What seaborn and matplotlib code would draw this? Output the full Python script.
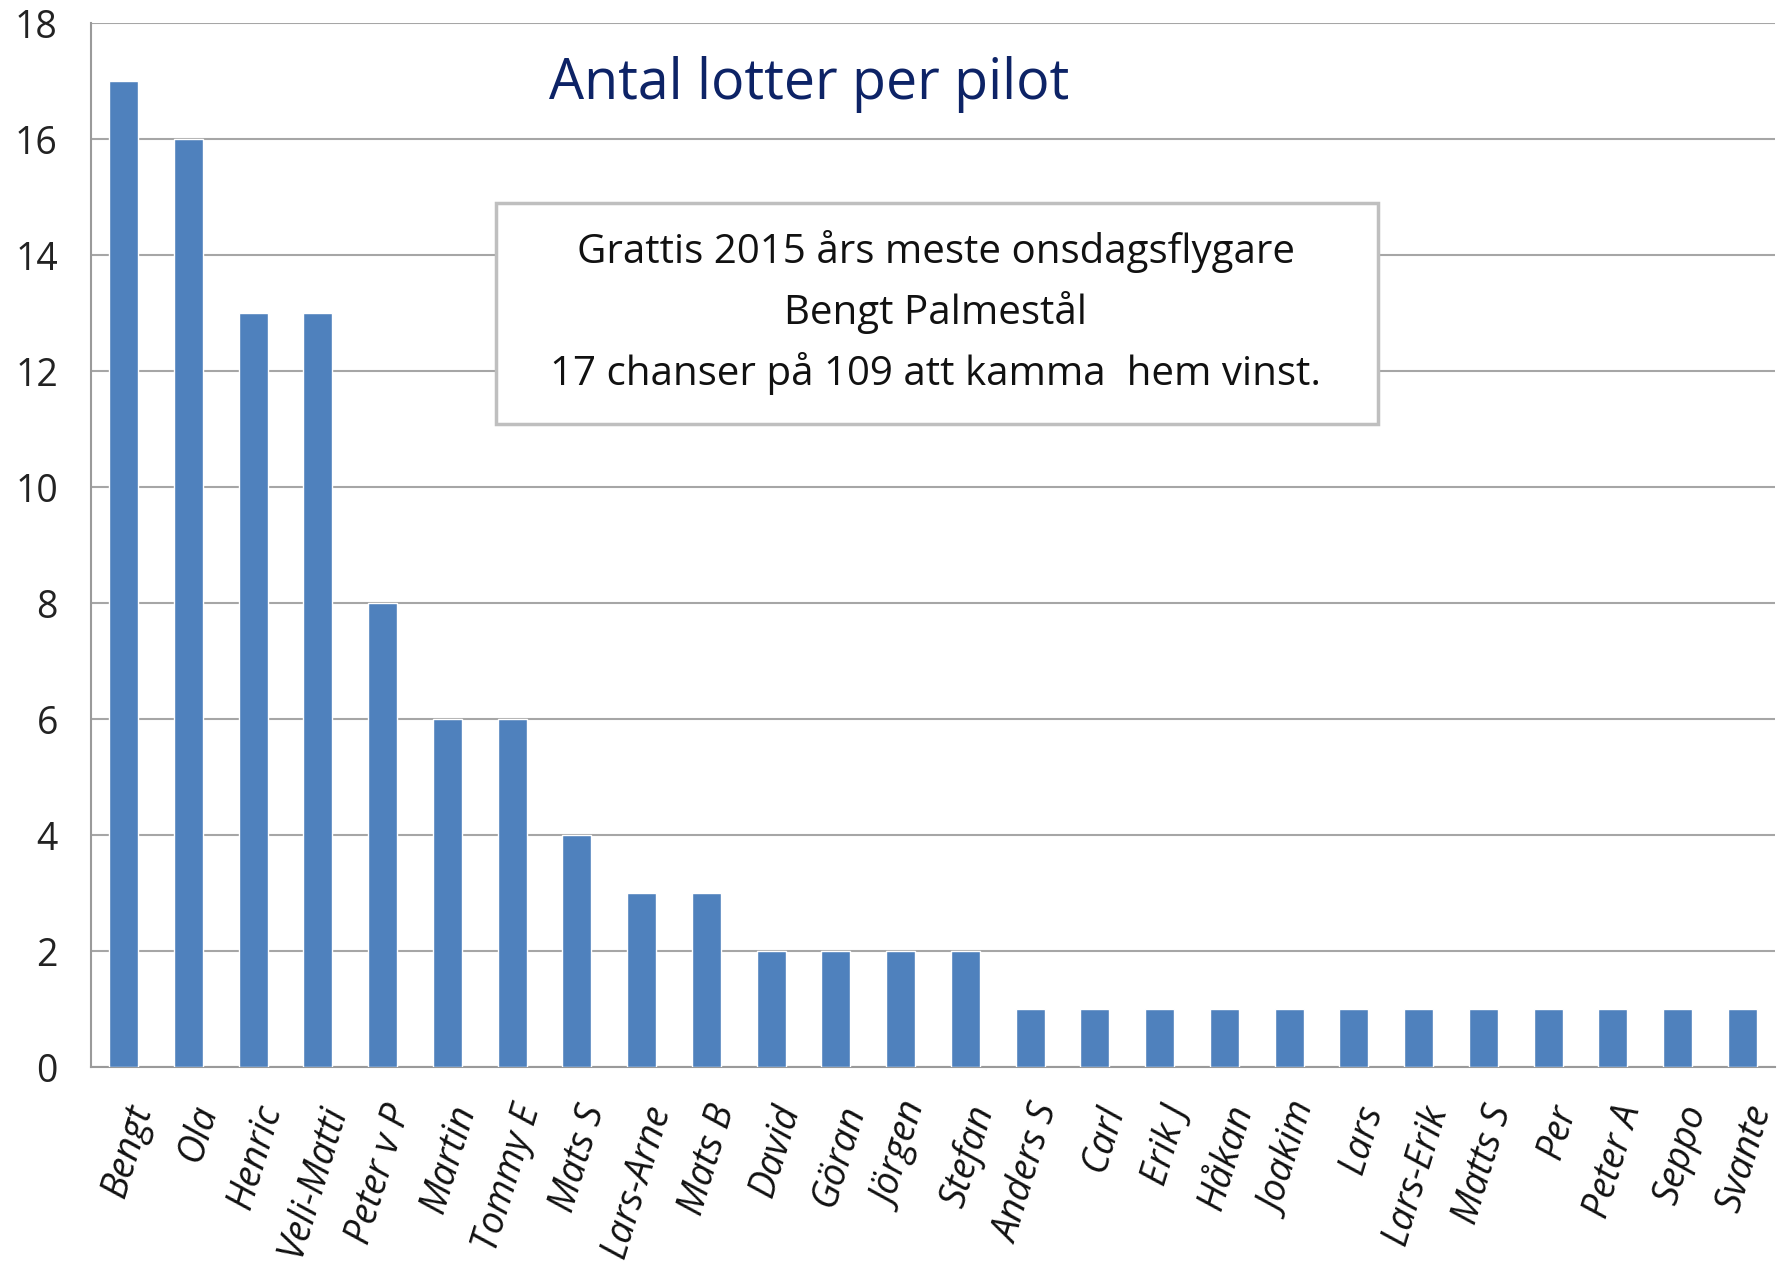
import pandas as pd
import matplotlib.pyplot as plt
import seaborn as sns
from matplotlib.patches import Rectangle

# Data
pilots = ["Bengt", "Ola", "Henric", "Veli-Matti", "Peter v P", "Martin", "Tommy E",
          "Mats S", "Lars-Arne", "Mats B", "David", "Göran", "Jörgen", "Stefan",
          "Anders S", "Carl", "Erik J", "Håkan", "Joakim", "Lars", "Lars-Erik",
          "Matts S", "Per", "Peter A", "Seppo", "Svante"]
lotter = [17, 16, 13, 13, 8, 6, 6, 4, 3, 3, 2, 2, 2, 2,
          1, 1, 1, 1, 1, 1, 1, 1, 1, 1, 1, 1]
y_ticks = [0, 2, 4, 6, 8, 10, 12, 14, 16, 18]

df = pd.DataFrame({"pilot": pilots, "lotter": lotter})

sns.set_style("white")
plt.rcParams['font.family'] = ['Open Sans', 'DejaVu Sans']

fig = plt.figure(figsize=(17.89, 12.78), dpi=100)
ax = fig.add_axes([0.051, 0.165, 0.941, 0.817])

sns.barplot(data=df, x="pilot", y="lotter", color="#4F81BD", saturation=1,
            width=0.45, ax=ax, zorder=3)

ax.set_ylim(0, 18)
ax.set_xlim(-0.5, len(pilots) - 0.5)
ax.set_yticks(y_ticks)
ax.set_yticklabels([str(t) for t in y_ticks], fontsize=27, color="#222222")
ax.yaxis.grid(True, color="#A6A6A6", linewidth=1.5, zorder=0)
ax.set_axisbelow(True)
ax.tick_params(axis="y", length=8, width=1.3, color="#9A9A9A", pad=16)

# category labels, with separator ticks between categories (Excel style)
ax.set_xticks(range(len(pilots)))
ax.set_xticklabels(pilots, rotation=73, ha="right", va="top", rotation_mode="anchor",
                   fontsize=27, style="italic", color="#111111")
ax.tick_params(axis="x", which="major", length=0, pad=24)
ax.set_xticks([i - 0.5 for i in range(len(pilots) + 1)], minor=True)
ax.tick_params(axis="x", which="minor", length=15, width=1.3, color="#9A9A9A")

for s in ["top", "right"]:
    ax.spines[s].set_visible(False)
for s in ["left", "bottom"]:
    ax.spines[s].set_color("#9A9A9A")
    ax.spines[s].set_linewidth(1.5)

ax.set_xlabel("")
ax.set_ylabel("")

fig.text(0.452, 0.934, "Antal lotter per pilot", fontsize=40, color="#0D2366",
         ha="center", va="center")

# text box
fig.patches.append(Rectangle((0.2775, 0.668), 0.493, 0.173, transform=fig.transFigure,
                             facecolor="white", edgecolor="#BFBFBF", linewidth=2.5, zorder=5))
box_lines = ["Grattis 2015 års meste onsdagsflygare",
             "Bengt Palmestål",
             "17 chanser på 109 att kamma  hem vinst."]
for i, line in enumerate(box_lines):
    fig.text(0.523, 0.803 - i * 0.0475, line, fontsize=29, color="#111111",
             ha="center", va="center", zorder=6)

fig.savefig("out.png", dpi=100)
